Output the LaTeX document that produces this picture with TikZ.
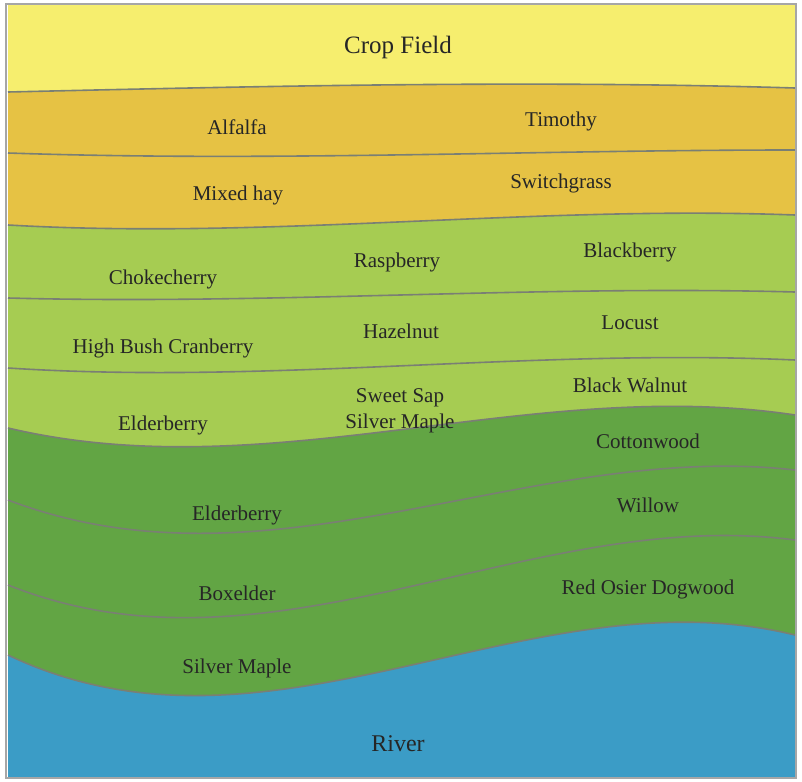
\documentclass[tikz,border=0pt]{standalone}
\usepackage{fontspec}
\setmainfont{Liberation Serif}
\usetikzlibrary{positioning}
\definecolor{cropc}{HTML}{F6EE6E}
\definecolor{hayc}{HTML}{E6C244}
\definecolor{shrubc}{HTML}{A6CC52}
\definecolor{treec}{HTML}{62A544}
\definecolor{riverc}{HTML}{3B9CC6}
\definecolor{edgec}{HTML}{7A7F74}
\newcommand\band[5]{%
  \fill[#1] (8,#2) .. controls (270,#3) and (530,#4) .. (795,#5) -- (795,778) -- (8,778) -- cycle;
  \draw[edgec, line width=1.6pt] (8,#2) .. controls (270,#3) and (530,#4) .. (795,#5);}
\begin{document}
\begin{tikzpicture}[x=1pt, y=-1pt,
    lbl/.style={font=\fontsize{21}{23}\selectfont, align=center, text=black!85}]
\useasboundingbox (0,0) rectangle (802,781);
% bands
\fill[cropc] (8,5) rectangle (795,778);
\band{hayc}{92}{86}{80}{88}
\band{hayc}{153}{162}{150}{150}
\band{shrubc}{225}{240}{205}{215}
\band{shrubc}{298}{305}{285}{292}
\band{shrubc}{368}{385}{348}{360}
\band{treec}{428}{490}{375}{415}
\band{treec}{500}{600}{440}{470}
\band{treec}{585}{690}{505}{540}
\band{riverc}{655}{780}{570}{635}
\draw[gray!70, line width=1.5pt] (6,4) rectangle (796,778);
% labels
\node[lbl, font=\fontsize{25}{27}\selectfont] (crop) at (398,47) {Crop Field};
\node[lbl] (alfalfa) at (237,127) {Alfalfa};
\node[lbl] (timothy) at (561,121) {Timothy};
\node[lbl] (mixed) at (238,195) {Mixed hay};
\node[lbl] (switch) at (561,183) {Switchgrass};
\node[lbl] (choke) at (163,279) {Chokecherry};
\node[lbl] (rasp) at (397,262) {Raspberry};
\node[lbl] (black) at (630,252) {Blackberry};
\node[lbl] (cran) at (163,348) {High Bush Cranberry};
\node[lbl] (hazel) at (401,331) {Hazelnut};
\node[lbl] (locust) at (630,323) {Locust};
\node[lbl] (elder) at (163,425) {Elderberry};
\node[lbl, font=\fontsize{21}{26}\selectfont] (maple) at (400,411) {Sweet Sap\\Silver Maple};
\node[lbl] (walnut) at (630,385) {Black Walnut};
\node[lbl] (cotton) at (648,441) {Cottonwood};
\node[lbl] (elder2) at (237,515) {Elderberry};
\node[lbl] (willow) at (648,505) {Willow};
\node[lbl] (boxe) at (237,593) {Boxelder};
\node[lbl] (dogwood) at (648,589) {Red Osier Dogwood};
\node[lbl] (silver) at (237,668) {Silver Maple};
\node[lbl, font=\fontsize{24}{26}\selectfont] (river) at (398,744) {River};
\end{tikzpicture}
\end{document}
